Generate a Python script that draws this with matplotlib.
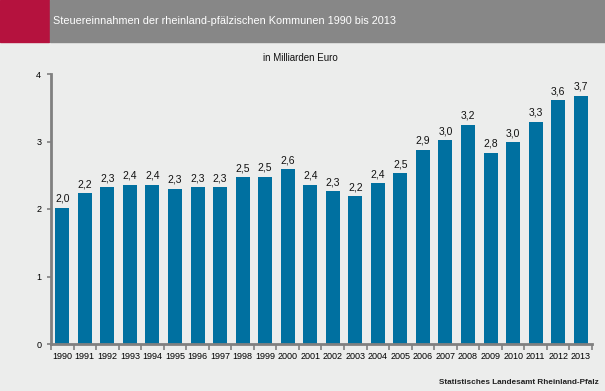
import matplotlib
matplotlib.use('Agg')
import matplotlib.pyplot as plt
import numpy as np

plt.rcParams['font.family'] = ['Liberation Sans', 'DejaVu Sans']

years = [str(y) for y in range(1990, 2014)]
values = [2.02, 2.23, 2.32, 2.36, 2.36, 2.30, 2.32, 2.32, 2.47, 2.48, 2.59, 2.36,
          2.26, 2.19, 2.38, 2.53, 2.88, 3.02, 3.25, 2.83, 2.99, 3.29, 3.61, 3.68]
labels = ['2,0', '2,2', '2,3', '2,4', '2,4', '2,3', '2,3', '2,3', '2,5', '2,5', '2,6', '2,4',
          '2,3', '2,2', '2,4', '2,5', '2,9', '3,0', '3,2', '2,8', '3,0', '3,3', '3,6', '3,7']

bg = '#ecedec'
bar_col = '#0070a0'
axis_col = '#808080'

fig = plt.figure(figsize=(6.05, 3.91), dpi=100, facecolor=bg)

# header band
fig.patches.append(plt.Rectangle((0, 1 - 42/391), 49/605, 42/391, transform=fig.transFigure,
                                 color='#b5123e', zorder=0))
fig.patches.append(plt.Rectangle((50/605, 1 - 42/391), 555/605, 42/391, transform=fig.transFigure,
                                 color='#878787', zorder=0))
fig.text(53/605, 1 - 21/391, 'Steuereinnahmen der rheinland-pfälzischen Kommunen 1990 bis 2013',
         color='white', fontsize=7.8, va='center', ha='left')
fig.text(300/605, 1 - 58/391, 'in Milliarden Euro', fontsize=7, va='center', ha='center', color='#111111')
fig.text(599/605, 1 - 382/391, 'Statistisches Landesamt Rheinland-Pfalz', fontsize=5.9,
         va='center', ha='right', color='#222222', fontweight='bold')

ax = fig.add_axes([51/605, 47/391, 541/605, 270/391])
ax.set_facecolor(bg)
x = np.arange(len(years))
bars = ax.bar(x, values, width=0.62, color=bar_col, zorder=2)
for xi, v, lab in zip(x, values, labels):
    ax.text(xi, v + 0.06, lab, ha='center', va='bottom', fontsize=7.5, color='#111111')

ax.set_xlim(-0.5, len(years) - 0.5)
ax.set_ylim(0, 4)
ax.set_yticks([0, 1, 2, 3, 4])
ax.set_yticklabels(['0', '1', '2', '3', '4'], fontsize=6.5)
ax.set_xticks(x)
ax.set_xticklabels(years, fontsize=6.5)
ax.set_xticks(np.arange(-0.5, len(years), 1), minor=True)
ax.tick_params(axis='x', which='major', length=0, pad=6)
ax.tick_params(axis='x', which='minor', length=4, width=1.2, color=axis_col, direction='out')
ax.tick_params(axis='y', length=3, width=1.2, color=axis_col, direction='out', pad=4)
for s in ['top', 'right']:
    ax.spines[s].set_visible(False)
for s in ['left', 'bottom']:
    ax.spines[s].set_color(axis_col)
    ax.spines[s].set_linewidth(2)

fig.savefig('out.png', dpi=100, facecolor=bg)
